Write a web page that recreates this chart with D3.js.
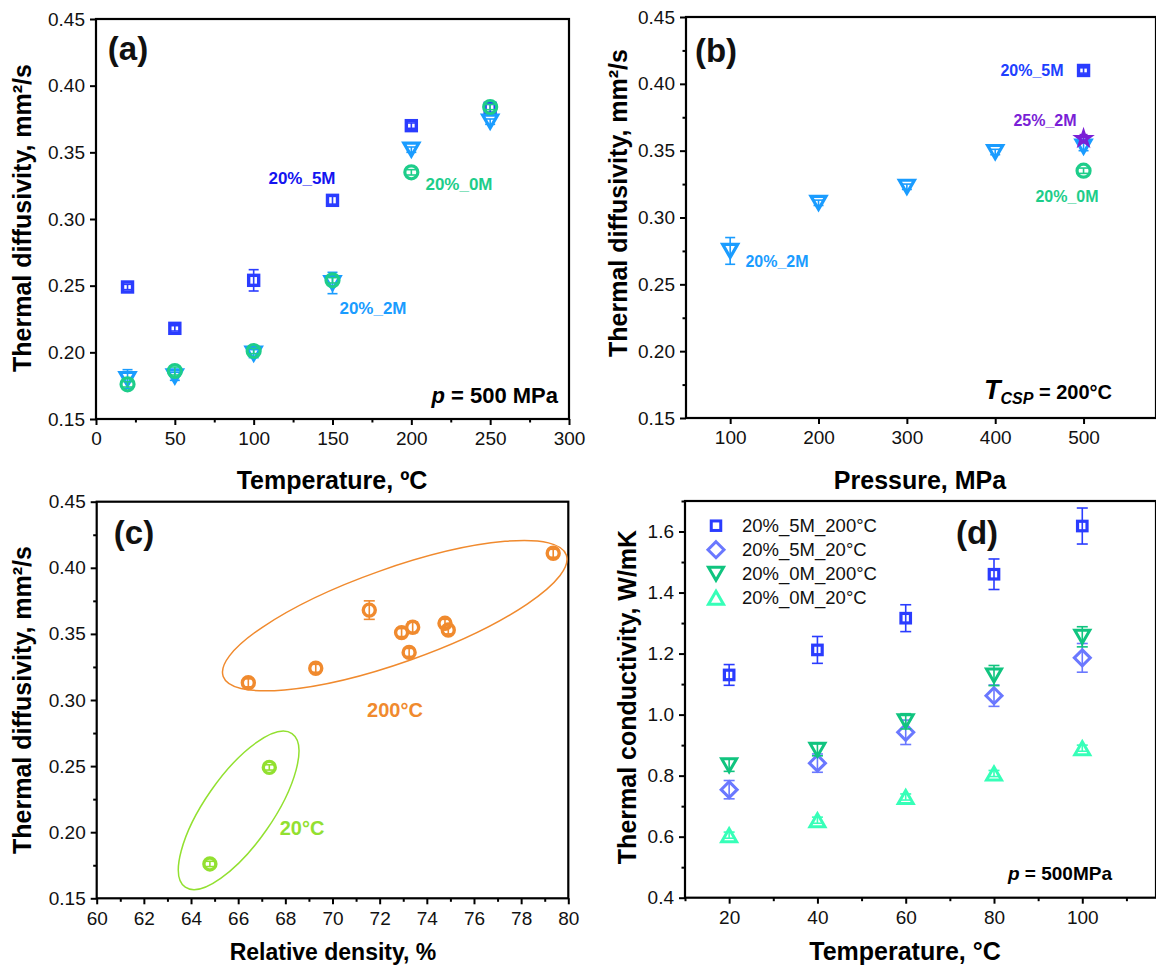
<!DOCTYPE html>
<html><head><meta charset="utf-8">
<script src="https://cdn.jsdelivr.net/npm/d3@7"></script>
<style>
body{margin:0;background:#fff;}
svg{display:block;font-family:Arial,"Liberation Sans",sans-serif;}
</style></head>
<body><svg id="c" width="1156" height="968"></svg>
<script>
// ---------- DATA ----------
// Panel (a): thermal diffusivity vs temperature, p = 500 MPa
const tempA = [20, 50, 100, 150, 200, 250];
const a5M = [0.249, 0.218, 0.254, 0.314, 0.370, 0.383];
const a5MErr = [0.002, 0.002, 0.008, 0.003, 0.002, 0.003];
const a2M = [0.180, 0.182, 0.199, 0.252, 0.352, 0.373];
const a2MErr = [0.007, 0.003, 0.003, 0.008, 0.002, 0.002];
const a0M = [0.176, 0.186, 0.201, 0.254, 0.335, 0.384];
const a0MErr = [0.002, 0.003, 0.002, 0.002, 0.002, 0.002];
const ticksA_x = [0, 50, 100, 150, 200, 250, 300];
const ticksDiff = [0.15, 0.20, 0.25, 0.30, 0.35, 0.40, 0.45];

// Panel (b): thermal diffusivity vs pressure, T_CSP = 200°C
const pressB = [100, 200, 300, 400, 500];
const b2M = [0.275, 0.311, 0.323, 0.349, 0.353];
const b2MErr = [0.010, 0.002, 0.002, 0.002, 0.003];
const pressB5M = [500], b5M = [0.410], b5MErr = [0.002];
const pressB0M = [500], b0M = [0.335], b0MErr = [0.002];
const pressB25 = [500], b25 = [0.359], b25Err = [0.003];
const ticksB_x = [100, 200, 300, 400, 500];

// Panel (c): thermal diffusivity vs relative density
const dens200 = [66.43, 69.29, 71.56, 72.93, 73.40, 73.25, 74.77, 74.91, 79.36];
const diff200 = [0.313, 0.324, 0.368, 0.351, 0.355, 0.336, 0.358, 0.353, 0.411];
const err200 = [0.003, 0.003, 0.007, 0.003, 0.004, 0.003, 0.003, 0.003, 0.003];
const dens20 = [64.80, 67.32];
const diff20 = [0.176, 0.249];
const err20 = [0.002, 0.002];
const ticksC_x = [60, 62, 64, 66, 68, 70, 72, 74, 76, 78, 80];
// ellipse annotations: centre in data units, semi-axes (px), rotation (deg)
const ell200 = {cx: 72.64, cy: 0.3638, rx: 182, ry: 47, rot: -19.5};
const ell20 = {cx: 66.02, cy: 0.2165, rx: 93.5, ry: 34, rot: -55.2};

// Panel (d): thermal conductivity vs temperature, p = 500 MPa
const tempD = [20, 40, 60, 80, 100];
const d5M200 = [1.130, 1.212, 1.316, 1.460, 1.618];
const d5M200Err = [0.034, 0.044, 0.044, 0.050, 0.059];
const d5M20 = [0.754, 0.841, 0.942, 1.062, 1.186];
const d5M20Err = [0.030, 0.030, 0.040, 0.035, 0.047];
const d0M200 = [0.834, 0.885, 0.978, 1.128, 1.255];
const d0M200Err = [0.020, 0.020, 0.025, 0.033, 0.033];
const d0M20 = [0.605, 0.654, 0.730, 0.807, 0.890];
const d0M20Err = [0.010, 0.010, 0.010, 0.010, 0.010];
const legendD = ["20%_5M_200°C", "20%_5M_20°C", "20%_0M_200°C", "20%_0M_20°C"];
const ticksD_x = [20, 40, 60, 80, 100];
const ticksD_y = [0.4, 0.6, 0.8, 1.0, 1.2, 1.4, 1.6];

// ---------- COLOURS ----------
const C5M = "#2a3cff", C2M = "#1a9cff", C0M = "#1dcd8a", CPUR = "#7a1fd6";
const CORG = "#f08a2e", CYG = "#92e030";
const CD1 = "#2a3cff", CD2 = "#6a78ff", CD3 = "#10c47f", CD4 = "#36ffb8";

const svg = d3.select("#c");
const TITLE = 25;

// ---------- HELPERS ----------
function marker(g, type, x, y, s, color, sw) {
  sw = sw || 3;
  let el;
  if (type === "square") {
    el = g.append("rect").attr("x", x - s/2).attr("y", y - s/2).attr("width", s).attr("height", s);
  } else if (type === "circle") {
    el = g.append("circle").attr("cx", x).attr("cy", y).attr("r", s/2);
  } else if (type === "tdown" || type === "tup") {
    const h = s * 0.866, d = type === "tdown" ? 1 : -1;
    const pts = [[x - s/2, y - d*h/2], [x + s/2, y - d*h/2], [x, y + d*h/2]];
    el = g.append("path").attr("d", "M" + pts.map(p => p.join(",")).join("L") + "Z");
  } else if (type === "diamond") {
    const r = s/2;
    el = g.append("path").attr("d", `M${x},${y-r}L${x+r},${y}L${x},${y+r}L${x-r},${y}Z`);
  } else if (type === "star") {
    el = g.append("path").attr("d", d3.symbol(d3.symbolStar, s*s*0.45)()).attr("transform", `translate(${x},${y})`);
  }
  el.attr("fill", "none").attr("stroke", color).attr("stroke-width", sw).attr("stroke-linejoin", "miter");
}
function errbar(g, x, y0, y1, color, cap) {
  cap = cap || 5;
  g.append("line").attr("x1", x).attr("x2", x).attr("y1", y0).attr("y2", y1).attr("stroke", color).attr("stroke-width", 1.6);
  [y0, y1].forEach(yy => g.append("line").attr("x1", x - cap).attr("x2", x + cap).attr("y1", yy).attr("y2", yy).attr("stroke", color).attr("stroke-width", 1.6));
}
function series(g, xs, ys, es, xS, yS, type, size, color, sw, cap) {
  xs.forEach((xv, i) => {
    const px = xS(xv), py = yS(ys[i]);
    errbar(g, px, yS(ys[i] - es[i]), yS(ys[i] + es[i]), color, cap);
    marker(g, type, px, py, size, color, sw);
  });
}
function frame(g, xS, yS, opts) {
  const [x0, x1] = xS.range(), [y0, y1] = yS.range();
  const xAx = d3.axisBottom(xS).tickValues(opts.xt).tickSize(6).tickPadding(7).tickFormat(opts.xf || d3.format("d"));
  const yAx = d3.axisLeft(yS).tickValues(opts.yt).tickSize(6).tickPadding(5).tickFormat(opts.yf);
  g.append("g").attr("transform", `translate(0,${y0})`).call(xAx);
  g.append("g").attr("transform", `translate(${x0},0)`).call(yAx);
  if (opts.xm) g.append("g").attr("transform", `translate(0,${y0})`).call(d3.axisBottom(xS).tickValues(opts.xm).tickSize(3.5).tickFormat(""));
  if (opts.ym) g.append("g").attr("transform", `translate(${x0},0)`).call(d3.axisLeft(yS).tickValues(opts.ym).tickSize(3.5).tickFormat(""));
  g.selectAll(".domain").remove();
  g.selectAll(".tick line").attr("stroke", "#000").attr("stroke-width", 2);
  g.selectAll(".tick text").attr("font-size", 19).attr("fill", "#111").attr("font-family", "Arial, 'Liberation Sans', sans-serif");
  g.append("rect").attr("x", x0).attr("y", y1).attr("width", x1 - x0).attr("height", y0 - y1)
    .attr("fill", "none").attr("stroke", "#000").attr("stroke-width", 2.2);
}
function bold(g, x, y, txt, size, color, anchor, rot) {
  const t = g.append("text").attr("x", x).attr("y", y).text(txt).attr("font-size", size)
    .attr("font-weight", "bold").attr("fill", color || "#000").attr("text-anchor", anchor || "middle");
  if (rot) t.attr("transform", `rotate(${rot},${x},${y})`);
  return t;
}
function range(a, b, st) { const r = []; for (let v = a; v <= b + 1e-9; v += st) r.push(+v.toFixed(4)); return r; }

// ---------- PANEL (a) ----------
{
  const g = svg.append("g");
  const x = d3.scaleLinear().domain([0, 300]).range([96, 569]);
  const y = d3.scaleLinear().domain([0.15, 0.45]).range([419, 19]);
  frame(g, x, y, {xt: ticksA_x, yt: ticksDiff, yf: d3.format(".2f"), xm: range(25, 275, 50)});
  const m = g.append("g");
  series(m, tempA, a5M, a5MErr, x, y, "square", 10, C5M, 3.4, 5);
  series(m, tempA, a2M, a2MErr, x, y, "tdown", 15, C2M, 3.2, 5);
  series(m, tempA, a0M, a0MErr, x, y, "circle", 13, C0M, 3.2, 5);
  bold(g, 302, 184, "20%_5M", 17, "#1414f0");
  bold(g, 459, 190, "20%_0M", 17, C0M);
  bold(g, 373, 314, "20%_2M", 17, C2M);
  bold(g, 128, 60, "(a)", 33, "#111");
  const p = g.append("text").attr("x", 558).attr("y", 403).attr("text-anchor", "end").attr("font-size", 22).attr("font-weight", "bold");
  p.append("tspan").attr("font-style", "italic").text("p");
  p.append("tspan").text(" = 500 MPa");
  bold(g, 332, 489, "Temperature, ºC", TITLE);
  bold(g, 31, 218, "Thermal diffusivity, mm²/s", TITLE, "#000", "middle", -90);
}

// ---------- PANEL (b) ----------
{
  const g = svg.append("g");
  const x = d3.scaleLinear().domain([50, 582]).range([686, 1156]);
  const y = d3.scaleLinear().domain([0.15, 0.45]).range([418, 17]);
  frame(g, x, y, {xt: ticksB_x, yt: ticksDiff, yf: d3.format(".2f"), ym: range(0.175, 0.425, 0.05)});
  const m = g.append("g");
  series(m, pressB, b2M, b2MErr, x, y, "tdown", 15, C2M, 3.2, 5);
  series(m, pressB5M, b5M, b5MErr, x, y, "square", 10, C5M, 3.4, 5);
  series(m, pressB0M, b0M, b0MErr, x, y, "circle", 13, C0M, 3.2, 5);
  series(m, pressB25, b25, b25Err, x, y, "star", 11, CPUR, 3, 4);
  bold(g, 1032, 76, "20%_5M", 16, "#2040ff");
  bold(g, 1045, 126, "25%_2M", 16, CPUR);
  bold(g, 1067, 202, "20%_0M", 16, C0M);
  bold(g, 777, 267, "20%_2M", 16, C2M);
  bold(g, 716, 62, "(b)", 33, "#111");
  const t = g.append("text").attr("x", 1112).attr("y", 399).attr("text-anchor", "end").attr("font-weight", "bold").attr("font-size", 20);
  t.append("tspan").attr("font-style", "italic").attr("font-size", 27).text("T");
  t.append("tspan").attr("font-style", "italic").attr("font-size", 16).attr("dy", 5).text("CSP");
  t.append("tspan").attr("dy", -5).text(" = 200°C");
  bold(g, 920, 489, "Pressure, MPa", TITLE);
  bold(g, 627, 203, "Thermal diffusivity, mm²/s", TITLE, "#000", "middle", -90);
}

// ---------- PANEL (c) ----------
{
  const g = svg.append("g");
  const x = d3.scaleLinear().domain([60, 80]).range([96.7, 568.3]);
  const y = d3.scaleLinear().domain([0.15, 0.45]).range([898.3, 501.7]);
  frame(g, x, y, {xt: ticksC_x, yt: ticksDiff, yf: d3.format(".2f"), xm: range(61, 79, 2), ym: range(0.175, 0.425, 0.05)});
  [[ell200, CORG], [ell20, CYG]].forEach(([e, col]) => {
    g.append("ellipse").attr("cx", 0).attr("cy", 0).attr("rx", e.rx).attr("ry", e.ry)
      .attr("transform", `translate(${x(e.cx)},${y(e.cy)}) rotate(${e.rot})`)
      .attr("fill", "none").attr("stroke", col).attr("stroke-width", 1.5);
  });
  const m = g.append("g");
  series(m, dens200, diff200, err200, x, y, "circle", 12, CORG, 3.4, 5.5);
  series(m, dens20, diff20, err20, x, y, "circle", 12, CYG, 3.4, 5.5);
  bold(g, 395, 717, "200°C", 20, CORG);
  bold(g, 302, 835, "20°C", 20, CYG);
  bold(g, 134, 544, "(c)", 33, "#111");
  bold(g, 333, 960, "Relative density, %", 23);
  bold(g, 31, 700, "Thermal diffusivity, mm²/s", TITLE, "#000", "middle", -90);
}

// ---------- PANEL (d) ----------
{
  const g = svg.append("g");
  const x = d3.scaleLinear().domain([10, 116.7]).range([685, 1156]);
  const y = d3.scaleLinear().domain([0.4, 1.7]).range([897.7, 501]);
  frame(g, x, y, {xt: ticksD_x, yt: ticksD_y, yf: d3.format(".1f"), xm: range(10, 110, 20), ym: range(0.5, 1.7, 0.2)});
  const m = g.append("g");
  series(m, tempD, d0M20, d0M20Err, x, y, "tup", 15, CD4, 3, 5.5);
  series(m, tempD, d5M20, d5M20Err, x, y, "diamond", 16, CD2, 3, 5.5);
  series(m, tempD, d0M200, d0M200Err, x, y, "tdown", 15, CD3, 3, 5.5);
  series(m, tempD, d5M200, d5M200Err, x, y, "square", 9.5, CD1, 3.2, 5.5);
  // legend
  const types = ["square", "diamond", "tdown", "tup"], sizes = [9.5, 16, 15, 15], cols = [CD1, CD2, CD3, CD4];
  legendD.forEach((lab, i) => {
    const ly = 525.7 + i * 24;
    marker(g, types[i], 716, ly, sizes[i], cols[i], 3);
    g.append("text").attr("x", 742).attr("y", ly + 6.5).text(lab).attr("font-size", 18.5).attr("fill", "#111");
  });
  bold(g, 977, 544, "(d)", 33, "#111");
  const p = g.append("text").attr("x", 1112).attr("y", 880).attr("text-anchor", "end").attr("font-size", 19).attr("font-weight", "bold");
  p.append("tspan").attr("font-style", "italic").text("p");
  p.append("tspan").text(" = 500MPa");
  bold(g, 905, 960, "Temperature, °C", TITLE);
  bold(g, 636, 697, "Thermal conductivity, W/mK", TITLE, "#000", "middle", -90);
}
</script></body></html>
